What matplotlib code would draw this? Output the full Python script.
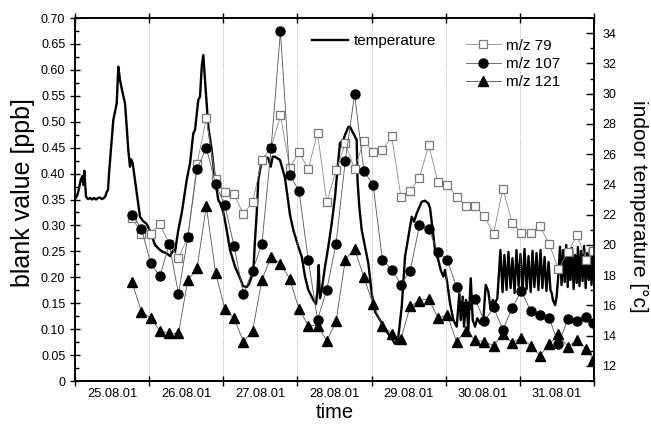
import matplotlib
matplotlib.use("Agg")
import matplotlib.pyplot as plt
from matplotlib.ticker import FixedLocator, MultipleLocator, FuncFormatter, NullFormatter

plt.rcParams["font.family"] = ["Liberation Sans", "DejaVu Sans"]

# hours since 25.08.01 00:00
SAMPLE_H = [18.5, 21.5, 24.5, 27.5, 30.5, 33.5, 36.5, 39.5, 42.5, 45.5,
            48.5, 51.5, 54.5, 57.5, 60.5, 63.5, 66.5, 69.5, 72.5, 75.5,
            78.5, 81.5, 84.5, 87.5, 90.5, 93.5, 96.5, 99.5, 102.5, 105.5,
            108.5, 111.5, 114.5, 117.5, 120.5, 123.5, 126.5, 129.5, 132.5, 135.5,
            138.5, 141.5, 144.5, 147.5, 150.5, 153.5, 156.5, 159.5, 162.5, 165.5,
            167.8]

MZ79 = [0.315, 0.284, 0.284, 0.302, 0.265, 0.237, 0.277, 0.418, 0.507, 0.390,
        0.365, 0.360, 0.322, 0.345, 0.427, 0.450, 0.512, 0.411, 0.441, 0.409,
        0.478, 0.345, 0.406, 0.458, 0.409, 0.463, 0.442, 0.445, 0.472, 0.355,
        0.367, 0.392, 0.455, 0.383, 0.378, 0.355, 0.338, 0.337, 0.318, 0.284,
        0.371, 0.305, 0.285, 0.285, 0.299, 0.264, 0.216, 0.248, 0.281, 0.234,
        0.250]

MZ107 = [0.320, 0.294, 0.227, 0.202, 0.264, 0.168, 0.277, 0.409, 0.450, 0.380,
         0.339, 0.260, 0.168, 0.213, 0.264, 0.450, 0.674, 0.397, 0.367, 0.234,
         0.118, 0.176, 0.265, 0.425, 0.553, 0.405, 0.378, 0.234, 0.215, 0.186,
         0.213, 0.300, 0.293, 0.248, 0.234, 0.181, 0.145, 0.159, 0.115, 0.142,
         0.099, 0.141, 0.174, 0.135, 0.128, 0.122, 0.071, 0.119, 0.116, 0.124,
         0.112]

MZ121 = [0.190, 0.134, 0.121, 0.097, 0.092, 0.092, 0.194, 0.217, 0.337, 0.209,
         0.139, 0.121, 0.076, 0.097, 0.195, 0.240, 0.226, 0.197, 0.139, 0.107,
         0.107, 0.077, 0.115, 0.234, 0.255, 0.200, 0.148, 0.107, 0.091, 0.081,
         0.144, 0.155, 0.159, 0.121, 0.128, 0.076, 0.097, 0.079, 0.076, 0.068,
         0.091, 0.074, 0.083, 0.068, 0.049, 0.071, 0.090, 0.066, 0.079, 0.062,
         0.041]

TEMP_H = [0, 0.65, 1.07, 1.85, 2.36, 2.69, 3.01, 3.56, 4.21, 4.86,
          5.50, 6.15, 6.80, 7.45, 8.09, 8.74, 9.39, 9.87, 10.26, 10.68,
          11.10, 11.88, 12.40, 12.95, 13.50, 14.02, 14.57, 15.44, 16.19, 16.74,
          17.25, 17.80, 18.13, 18.68, 19.42, 20.17, 21.04, 22.01, 23.21, 24.28,
          25.90, 27.52, 28.49, 29.69, 30.76, 31.82, 32.37, 33.44, 34.54, 36.16,
          37.23, 38.30, 38.85, 39.91, 40.47, 41.02, 41.53, 42.08, 43.15, 44.25,
          45.32, 46.39, 46.94, 48.01, 49.11, 50.18, 51.80, 53.41, 54.38, 55.58,
          56.33, 57.72, 58.27, 58.82, 59.34, 59.89, 60.44, 61.51, 62.58, 63.35,
          64.00, 64.74, 66.36, 67.98, 68.95, 69.60, 70.67, 72.29, 73.39, 74.46,
          75.52, 77.14, 78.02, 78.50, 78.89, 79.15, 79.31, 79.86, 80.93, 82.00,
          83.10, 84.17, 85.24, 85.79, 86.85, 87.40, 88.47, 89.02, 90.09, 91.19,
          91.45, 92.03, 92.81, 93.88, 94.95, 96.05, 97.12, 98.73, 100.90, 102.52,
          103.59, 104.66, 105.76, 106.83, 107.90, 109.00, 109.74, 110.62, 112.23, 113.30,
          114.37, 114.92, 115.79, 116.54, 117.61, 118.38, 119.23, 119.78, 120.52, 121.40,
          122.47, 123.56, 124.41, 124.86, 125.51, 125.93, 126.57, 127.32, 128.10, 128.74,
          129.49, 130.23, 131.11, 132.17, 132.95, 133.79, 134.57, 135.22, 135.96, 136.71,
          137.7, 138.4, 139.0, 139.7, 140.3, 141.0, 141.6, 142.3, 142.9, 143.6,
          144.2, 144.9, 145.5, 146.2, 146.8, 147.5, 148.1, 148.7, 149.4, 150.0,
          150.7, 151.3, 152.0, 152.6, 153.3, 153.9, 154.3, 154.7, 155.4, 155.9,
          156.5, 157.0, 157.5, 158.0, 158.5, 159.0, 159.5, 159.9, 160.4, 160.9,
          161.4, 161.9, 162.4, 162.8, 163.3, 163.8, 164.3, 164.8, 165.3, 165.8,
          166.3, 166.7, 167.2, 167.7, 168.0]

TEMP_C = [23.03, 23.23, 23.52, 24.29, 24.55, 23.96, 24.90, 23.19, 23.03, 23.10,
          23.00, 23.10, 23.00, 23.10, 23.13, 23.03, 23.10, 23.23, 23.50, 23.63,
          24.95, 26.93, 28.26, 28.80, 29.36, 31.78, 30.90, 30.02, 29.36, 27.81,
          26.27, 25.17, 25.66, 25.39, 24.29, 23.19, 21.86, 21.58, 21.38, 20.92,
          19.99, 19.66, 19.53, 19.44, 19.26, 19.66, 19.53, 20.98, 22.09, 24.29,
          25.39, 27.38, 27.60, 29.58, 29.80, 31.78, 32.55, 30.90, 27.81, 26.27,
          24.29, 22.97, 22.77, 22.17, 20.98, 19.66, 18.56, 17.81, 17.28, 17.21,
          17.41, 18.21, 20.32, 22.09, 24.29, 24.95, 25.61, 25.83, 25.72, 25.17,
          25.83, 25.83, 25.61, 24.42, 22.97, 21.98, 20.98, 19.88, 19.22, 17.90,
          17.02, 16.36, 16.09, 17.02, 18.67, 17.02, 16.47, 17.02, 18.56, 19.88,
          21.43, 23.19, 25.61, 26.74, 26.93, 27.26, 27.79, 27.81, 27.38, 26.93,
          24.29, 22.52, 20.98, 19.88, 18.78, 16.80, 15.58, 15.03, 14.26, 13.82,
          13.45, 13.93, 15.91, 19.22, 20.54, 21.86, 21.53, 22.09, 22.85, 22.92,
          22.75, 22.44, 20.98, 19.66, 19.00, 18.34, 17.90, 18.34, 17.46, 16.14,
          15.03, 14.59, 16.80, 15.03, 16.57, 14.59, 16.36, 14.37, 17.79, 15.03,
          14.59, 15.15, 14.81, 15.03, 17.35, 16.90, 15.69, 16.36, 16.14, 16.47,
          19.66, 16.88, 19.33, 17.02, 19.53, 17.15, 19.13, 16.82, 19.66, 17.28,
          19.40, 16.95, 19.73, 17.08, 19.26, 16.88, 19.60, 17.21, 19.46, 17.02,
          19.66, 17.15, 19.20, 16.95, 18.87, 17.02, 16.82, 16.36, 16.02, 16.57,
          18.12, 19.88, 17.35, 19.66, 17.55, 19.99, 17.21, 19.53, 17.68, 19.79,
          17.08, 19.33, 17.48, 19.86, 17.28, 19.60, 17.61, 19.93, 17.15, 19.46,
          17.68, 19.79, 17.35, 19.53, 18.34]

DAY_LABELS = ["25.08.01", "26.08.01", "27.08.01", "28.08.01",
              "29.08.01", "30.08.01", "31.08.01"]
DAY_EDGES = [0, 24, 48, 72, 96, 120, 144, 168]
DAY_MIDS = [12, 36, 60, 84, 108, 132, 156]

fig = plt.figure(figsize=(6.51, 4.25), dpi=100)
ax = fig.add_axes([75 / 651, 1 - 381 / 425, 519 / 651, 363 / 425])
ax2 = ax.twinx()
ax.set_zorder(ax2.get_zorder() + 1)
ax.patch.set_visible(False)

# temperature on the right axis
temp_line, = ax2.plot(TEMP_H, TEMP_C, color="black", lw=1.7, label="temperature")

line_kw = dict(lw=0.6)
l79, = ax.plot(SAMPLE_H, MZ79, color="#8a8a8a", marker="s", ms=5.2, mfc="white",
               mec="#7a7a7a", mew=0.9, label="m/z 79", **line_kw)
l107, = ax.plot(SAMPLE_H, MZ107, color="#555555", marker="o", ms=6.5, mfc="black",
                mec="black", label="m/z 107", **line_kw)
l121, = ax.plot(SAMPLE_H, MZ121, color="#555555", marker="^", ms=6.8, mfc="black",
                mec="black", label="m/z 121", **line_kw)

for d in DAY_EDGES[1:-1]:
    ax.axvline(d, color="#9a9a9a", lw=0.6, ls=(0, (1, 1.5)), zorder=0)

ax.set_xlim(0, 168)
ax.set_ylim(0, 0.70)
ax2.set_ylim(11, 35)

# x ticks: day edges as ticks, labels at noon
ax.xaxis.set_major_locator(FixedLocator(DAY_EDGES))
ax.xaxis.set_major_formatter(NullFormatter())
ax.xaxis.set_minor_locator(FixedLocator(DAY_MIDS))
ax.xaxis.set_minor_formatter(FuncFormatter(lambda v, p: DAY_LABELS[DAY_MIDS.index(int(round(v)))]))
ax.tick_params(axis="x", which="major", direction="inout", length=7, width=1, top=True)
ax.tick_params(axis="x", which="minor", length=0, labelsize=9.3, pad=5)

ax.yaxis.set_major_locator(MultipleLocator(0.05))
ax.yaxis.set_minor_locator(MultipleLocator(0.025))
ax.yaxis.set_major_formatter(FuncFormatter(lambda v, p: "0" if abs(v) < 1e-9 else f"{v:.2f}"))
ax.tick_params(axis="y", which="major", direction="inout", length=7, width=1, labelsize=9)
ax.tick_params(axis="y", which="minor", direction="in", length=3, width=1)

ax2.yaxis.set_minor_locator(MultipleLocator(1))
ax2.set_yticks([12, 14, 16, 18, 20, 22, 24, 26, 28, 30, 32, 34])
ax2.tick_params(axis="y", which="major", direction="in", length=6, width=1, labelsize=9, pad=6)
ax2.tick_params(axis="y", which="minor", direction="in", length=3, width=1)

for a in (ax, ax2):
    for s in a.spines.values():
        s.set_linewidth(1.2)

ax.set_ylabel("blank value [ppb]", fontsize=18, va="center")
ax.yaxis.set_label_coords(-52 / 519, 0.52)
ax2.set_ylabel("indoor temperature [\u00b0c]", fontsize=15, rotation=270, va="center")
ax2.yaxis.set_label_coords(1 + 45 / 519, 0.48)
ax.set_xlabel("time", fontsize=14.5, labelpad=2)

fig.legend(handles=[temp_line], loc="center left", bbox_to_anchor=(304 / 651, 1 - 41 / 425),
           frameon=False, fontsize=11, handlelength=2.4, handletextpad=0.35, borderpad=0)
fig.legend(handles=[l79, l107, l121], loc="upper left", bbox_to_anchor=(458 / 651, 1 - 31 / 425),
           frameon=False, fontsize=11, handlelength=2.3, handletextpad=0.35,
           labelspacing=0.28, borderpad=0)

fig.savefig("out.png", dpi=100)
